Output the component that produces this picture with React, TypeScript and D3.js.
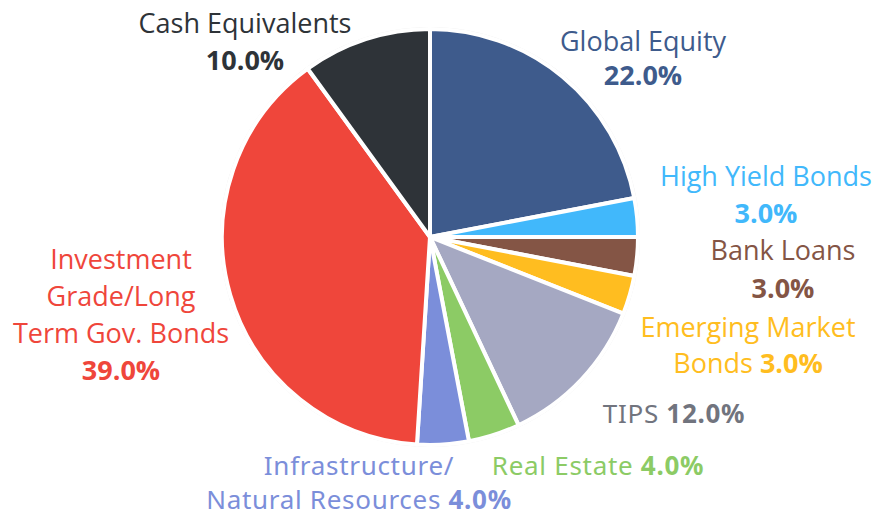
import React from "react";
import * as d3 from "d3";

const categories = [
  "Global Equity",
  "High Yield Bonds",
  "Bank Loans",
  "Emerging Market Bonds",
  "TIPS",
  "Real Estate",
  "Infrastructure/Natural Resources",
  "Investment Grade/Long Term Gov. Bonds",
  "Cash Equivalents",
];
const values = [22, 3, 3, 3, 12, 4, 4, 39, 10];
const sliceColors = [
  "#3e5b8c",
  "#41b8fb",
  "#845545",
  "#ffbd20",
  "#a5a8c2",
  "#8ccb65",
  "#7b8eda",
  "#ef463b",
  "#2e3338",
];
const labelColors = [
  "#3e5b8c",
  "#41b8fb",
  "#845545",
  "#ffbd20",
  "#71747e",
  "#8ccb65",
  "#7b8eda",
  "#ef463b",
  "#2e3338",
];

// label text lines; "%" marks where the bold value is inserted
type Seg = { t: string; b?: boolean };
const labelLines: string[][] = [
  ["Global Equity", "%"],
  ["High Yield Bonds", "%"],
  ["Bank Loans", "%"],
  ["Emerging Market", "Bonds %"],
  ["TIPS %"],
  ["Real Estate %"],
  ["Infrastructure/", "Natural Resources %"],
  ["Investment", "Grade/Long", "Term Gov. Bonds", "%"],
  ["Cash Equivalents", "%"],
];
// label layout: center x, first baseline y, line height, font family
const MYRIAD = "'Open Sans', Lato, sans-serif";
const PROXIMA = "'Noto Sans', 'Open Sans', sans-serif";
const labelLayout = [
  { x: 643, y: 51, lh: 34, f: MYRIAD, fs: 27, ls: 0 },
  { x: 766, y: 186, lh: 37, f: MYRIAD, fs: 27, ls: 0 },
  { x: 783, y: 260, lh: 38, f: MYRIAD, fs: 27, ls: 0 },
  { x: 748, y: 337, lh: 36, f: MYRIAD, fs: 27, ls: 0 },
  { x: 674, y: 423, lh: 36, f: PROXIMA, fs: 26, ls: 0.7 },
  { x: 598, y: 475, lh: 36, f: PROXIMA, fs: 26, ls: 0.7 },
  { x: 359, y: 475, lh: 34, f: PROXIMA, fs: 26, ls: 0.7 },
  { x: 121, y: 269, lh: 37, f: MYRIAD, fs: 27, ls: 0 },
  { x: 245, y: 33, lh: 37, f: MYRIAD, fs: 27, ls: 0 },
];

const W = 891;
const H = 517;
const CX = 430;
const CY = 237;
const R = 208;

export default function App() {
  const pie = d3
    .pie<number>()
    .sort(null)
    .value((d) => d)
    .startAngle(0)
    .endAngle(2 * Math.PI);
  const arcs = pie(values);
  const arcGen = d3.arc<d3.PieArcDatum<number>>().innerRadius(0).outerRadius(R);

  return (
    <svg
      width={W}
      height={H}
      style={{ position: "absolute", left: 0, top: 0, background: "#fff" }}
    >
      <circle cx={CX} cy={CY} r={R + 1} fill="none" stroke="#ececec" strokeWidth={2} />
      <g transform={`translate(${CX},${CY})`}>
        {arcs.map((a, i) => (
          <path
            key={categories[i]}
            d={arcGen(a) || ""}
            fill={sliceColors[i]}
            stroke="#fff"
            strokeWidth={4}
            strokeLinejoin="round"
          />
        ))}
      </g>
      {labelLines.map((lines, i) => {
        const L = labelLayout[i];
        const pct = d3.format(".1f")(values[i]) + "%";
        return (
          <text
            key={i}
            fill={labelColors[i]}
            fontFamily={L.f}
            fontSize={L.fs}
            letterSpacing={L.ls}
            textAnchor="middle"
          >
            {lines.map((ln, j) => {
              const segs: Seg[] = [];
              const parts = ln.split("%");
              if (parts.length === 1) segs.push({ t: ln });
              else {
                if (parts[0]) segs.push({ t: parts[0] });
                segs.push({ t: pct, b: true });
              }
              return (
                <tspan key={j} x={L.x} y={L.y + j * L.lh}>
                  {segs.map((s, k) => (
                    <tspan key={k} fontWeight={s.b ? 700 : 400}>
                      {s.t}
                    </tspan>
                  ))}
                </tspan>
              );
            })}
          </text>
        );
      })}
    </svg>
  );
}
